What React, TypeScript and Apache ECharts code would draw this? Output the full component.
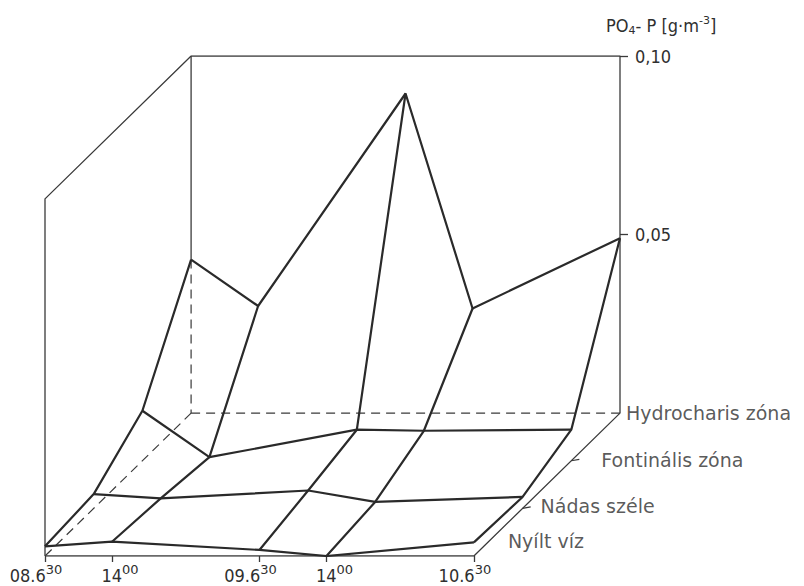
import React, { useEffect, useRef } from "react";
import * as echarts from "echarts";

// ---- data ----
// time axis in hours since 08.6 06:30
const times = [0, 7.5, 24, 31.5, 48];
const timeMain = ["08.6", "14", "09.6", "14", "10.6"];
const timeSup = ["30", "00", "30", "00", "30"];
// zones, back (Hydrocharis) to front (Nyílt víz)
const zones = ["Hydrocharis zóna", "Fontinális zóna", "Nádas széle", "Nyílt víz"];
const hydrocharis = [0.043, 0.03, 0.0895, 0.0293, 0.049];
const fontinalis = [0.014, 0.001, 0.0087, 0.0084, 0.0087];
const nadasSzele = [0.004, 0.0028, 0.005, 0.0018, 0.0032];
const nyiltViz = [0.0027, 0.004, 0.0017, 0.0, 0.0038];
const zTicks = [0.05, 0.1];
const zMax = 0.1;

const zoneValues = [hydrocharis, fontinalis, nadasSzele, nyiltViz];

// oblique projection: each zone step shifts by SX hours left and SY units down
const SX = 5.45;
const SY = 0.04 / 3;
const NZ = zones.length - 1;
const T0 = times[0];
const T1 = times[times.length - 1];
const proj = (t: number, k: number, z: number) => [t - k * SX, z - k * SY];

const INK = "#2a2a2a";
const THIN = "#3a3a3a";
const TEXT = "#2f2f2f";
const labelOffsets = [
  [6, 0],
  [30, -1],
  [18, -2],
  [34, -15],
];

function lineSeries(data: number[][], width: number, color: string, dashed = false, z = 2) {
  return {
    type: "line",
    xAxisIndex: 0,
    yAxisIndex: 0,
    data,
    symbol: "none",
    silent: true,
    z,
    lineStyle: { width, color, type: dashed ? [9, 6] : "solid" },
  };
}

export default function App() {
  const ref = useRef<HTMLDivElement>(null);
  useEffect(() => {
    if (!ref.current) return;
    const chart = echarts.init(ref.current, undefined, { renderer: "svg" });
    const series: any[] = [];
    // box: left panel + back panel outline
    series.push(
      lineSeries(
        [proj(T0, NZ, 0), proj(T0, NZ, zMax), proj(T0, 0, zMax), proj(T1, 0, zMax), proj(T1, 0, 0)],
        1.3,
        THIN
      )
    );
    // back-left vertical, visible part
    series.push(lineSeries([proj(T0, 0, zMax), proj(T0, 0, hydrocharis[0])], 1.3, THIN));
    // hidden edges (dashed)
    series.push(lineSeries([proj(T0, 0, hydrocharis[0]), proj(T0, 0, 0)], 1.2, THIN, true));
    series.push(lineSeries([proj(T0, 0, 0), proj(T1 + 0.3, 0, 0)], 1.2, THIN, true));
    series.push(lineSeries([proj(T0, 0, 0), proj(T0, NZ, 0)], 1.2, THIN, true));
    // floor front and right edges
    series.push(lineSeries([proj(T0, NZ, 0), proj(T1, NZ, 0), proj(T1, 0, 0)], 1.3, THIN));
    // depth ticks
    for (let k = 1; k < NZ; k++) {
      series.push(lineSeries([proj(T1, k, 0), proj(T1 + 0.9, k, 0.0004)], 1.2, THIN));
    }
    // surface rows
    zoneValues.forEach((vals, k) => {
      series.push(lineSeries(vals.map((v, i) => proj(times[i], k, v)), 2.2, INK, false, 3));
    });
    // surface columns
    times.forEach((t, i) => {
      series.push(lineSeries(zoneValues.map((vals, k) => proj(t, k, vals[i])), 2.2, INK, false, 3));
    });
    // zone labels
    series.push({
      type: "scatter",
      xAxisIndex: 0,
      yAxisIndex: 0,
      symbolSize: 0,
      silent: true,
      data: zones.map((_, k) => ({
        value: proj(T1, k, 0),
        label: { offset: labelOffsets[k] },
      })),
      label: {
        show: true,
        position: "right",
        distance: 0,
        formatter: (p: any) => zones[p.dataIndex],
        fontFamily: "DejaVu Sans",
        fontSize: 19,
        color: TEXT,
      },
    });

    chart.setOption({
      animation: false,
      backgroundColor: "#ffffff",
      grid: {
        left: 45,
        right: 184,
        top: 56,
        bottom: 30,
        containLabel: false,
        outerBoundsMode: "none",
      },
      xAxis: [
        {
          type: "value",
          min: T0 - NZ * SX,
          max: T1,
          show: false,
        },
        {
          type: "value",
          position: "bottom",
          min: T0,
          max: T1 + NZ * SX,
          axisLine: { show: false, onZero: false },
          splitLine: { show: false },
          axisTick: {
            show: true,
            customValues: times,
            length: 6,
            inside: false,
            lineStyle: { color: THIN, width: 1.3 },
          },
          axisLabel: {
            show: true,
            customValues: times,
            margin: 7,
            color: TEXT,
            formatter: (v: number) => {
              const i = times.indexOf(v);
              if (i < 0) return "";
              const isDate = timeMain[i].indexOf(".") >= 0;
              return isDate
                ? `{d|${timeMain[i]}}{s|${timeSup[i]}}{r|}`
                : `{l|}{d|${timeMain[i]}}{s|${timeSup[i]}}`;
            },
            rich: {
              d: {
                fontFamily: "DejaVu Sans Condensed, DejaVu Sans",
                fontSize: 18,
                lineHeight: 18,
                verticalAlign: "bottom",
                color: TEXT,
              },
              s: {
                fontFamily: "DejaVu Sans",
                fontSize: 13,
                lineHeight: 13,
                verticalAlign: "top",
                color: TEXT,
              },
              r: { width: 18, lineHeight: 21, height: 21 },
              l: { width: 16, lineHeight: 21, height: 21 },
            },
          },
        },
      ],
      yAxis: [
        {
          type: "value",
          position: "right",
          min: -NZ * SY,
          max: zMax,
          name: "PO{sub|4}- P [g·m{sup|-3}]",
          nameLocation: "end",
          nameGap: 20,
          nameTextStyle: {
            fontFamily: "DejaVu Sans Condensed, DejaVu Sans",
            fontSize: 18,
            color: TEXT,
            align: "left",
            padding: [0, 0, 0, -14],
            rich: {
              sub: {
                fontFamily: "DejaVu Sans",
                fontSize: 11,
                verticalAlign: "bottom",
                padding: [10, 0, 0, 0],
                color: TEXT,
              },
              sup: {
                fontFamily: "DejaVu Sans",
                fontSize: 11,
                verticalAlign: "top",
                padding: [0, 0, 8, 0],
                color: TEXT,
              },
            },
          },
          axisLine: { show: false, onZero: false },
          splitLine: { show: false },
          axisTick: {
            show: true,
            customValues: zTicks,
            length: 8,
            inside: false,
            lineStyle: { color: THIN, width: 1.3 },
          },
          axisLabel: {
            show: true,
            customValues: zTicks,
            margin: 15,
            fontFamily: "DejaVu Sans Condensed, DejaVu Sans",
            fontSize: 18,
            color: TEXT,
            formatter: (v: number) => v.toFixed(2).replace(".", ","),
          },
        },
      ],
      series,
    });
    return () => chart.dispose();
  }, []);
  return (
    <div
      ref={ref}
      style={{ position: "fixed", left: 0, top: 0, width: 804, height: 586, background: "#fff" }}
    />
  );
}
